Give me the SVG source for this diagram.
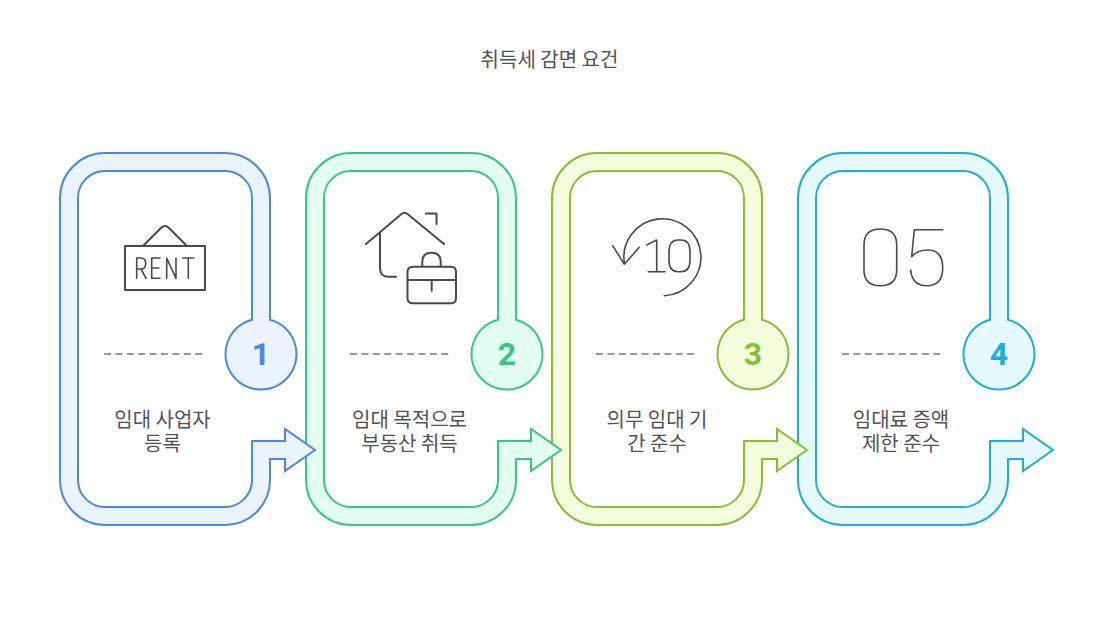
<svg xmlns="http://www.w3.org/2000/svg" width="1099" height="624" viewBox="0 0 1099 624">
<style>
text{font-family:"Noto Sans CJK KR","Noto Sans",sans-serif;font-size:20px;fill:#525252;text-anchor:middle}
.n{font-family:Roboto,sans-serif;font-weight:700;font-size:32px}
.b{stroke-width:2;stroke-linejoin:miter}
.d{fill:none;stroke:#999;stroke-width:2;stroke-dasharray:7 4.4}
.i{fill:none;stroke:#4a4a4a;stroke-width:2;stroke-linecap:round;stroke-linejoin:round}
.t{stroke-width:1.6}
</style>
<defs>
<path id="s" d="M252 319.700V198A27 27 0 0 0 225 171H105A27 27 0 0 0 78 198V480A27 27 0 0 0 105 507H225A27 27 0 0 0 252 480V441H285V429L315 450L285 471V459H270V480A45 45 0 0 1 225 525H105A45 45 0 0 1 60 480V198A45 45 0 0 1 105 153H225A45 45 0 0 1 270 198V319.700A35.500 35.500 0 1 1 252 319.700Z"/>
<path id="l" d="M104 354H203"/>
</defs>
<text x="549.500" y="67">취득세 감면 요건</text>
<g id="connectors"></g>
<g id="node-4" transform="translate(738 0)">
<use href="#s" class="b" fill="#e6f9ff" stroke="#1fadd8"/>
<use href="#l" class="d"/>
<path class="i t" d="M126 245Q126 229 142.300 229Q158.700 229 158.700 245V270Q158.700 285.700 142.300 285.700Q126 285.700 126 270Z"/>
<path class="i t" d="M204.700 229.700H176.300L173.700 256.700Q179 250 190 250Q204.700 250 204.700 268Q204.700 285.700 189 285.700Q174 285.700 172.700 270"/>
<text class="n" x="261" y="365" style="fill:#1fadd8">4</text>
<text x="163" y="427">임대료 증액</text>
<text x="163" y="451">제한 준수</text>
</g>
<g id="node-3" transform="translate(492 0)">
<use href="#s" class="b" fill="#f3ffdc" stroke="#8bbc35"/>
<use href="#l" class="d"/>
<path class="i t" d="M120.700 245.700L132.300 264.300L147.300 247.300M132.500 264A38.500 38.500 0 1 1 172.300 295.700"/>
<path class="i t" d="M154.700 245L164.700 240V271.700M156.300 271.700H173M177 252Q177 240 186 240H189Q198 240 198 252V260Q198 271.700 189 271.700H186Q177 271.700 177 260Z"/>
<text class="n" x="261" y="365" style="fill:#8bbc35">3</text>
<text x="165" y="427">의무 임대 기</text>
<text x="165" y="451">간 준수</text>
</g>
<g id="node-2" transform="translate(246 0)">
<use href="#s" class="b" fill="#e3fff0" stroke="#37c589"/>
<use href="#l" class="d"/>
<path class="i" d="M120 244L155.500 214Q158.500 211.500 161.500 214L198 244M134 232V268Q134 276.700 142 276.700H150M180 213.500H190.500V224"/>
<path class="i" d="M161.500 272Q161.500 266.700 167 266.700H205Q210 266.700 210 272V298Q210 303.300 205 303.300H167Q161.500 303.300 161.500 298ZM161.500 280H210M185.700 280V290.700M176.300 266.700V262Q176.300 252.700 185.500 252.700Q194.700 252.700 194.700 262V266.700"/>
<text class="n" x="261" y="365" style="fill:#37c589">2</text>
<text x="163.500" y="427">임대 목적으로</text>
<text x="163.500" y="451">부동산 취득</text>
</g>
<g id="node-1">
<use href="#s" class="b" fill="#ebf3ff" stroke="#4d86e3"/>
<use href="#l" class="d"/>
<path class="i" d="M125 246H205V290H125ZM143 246L161 228Q165 224 169 228L187 246"/>
<path class="i t" d="M136.700 278.300V258H141Q145.700 258 145.700 263.500Q145.700 269 141 269H136.700M141 269L146 278.300M160 258H151.700V278.300H160M151.700 268H159M166.700 278.300V258L176 278.300V258M182.700 258H194M188.300 258V278.300"/>
<text class="n" x="261" y="365" style="fill:#4d86e3">1</text>
<text x="162.500" y="427">임대 사업자</text>
<text x="162.500" y="451">등록</text>
</g>
</svg>
